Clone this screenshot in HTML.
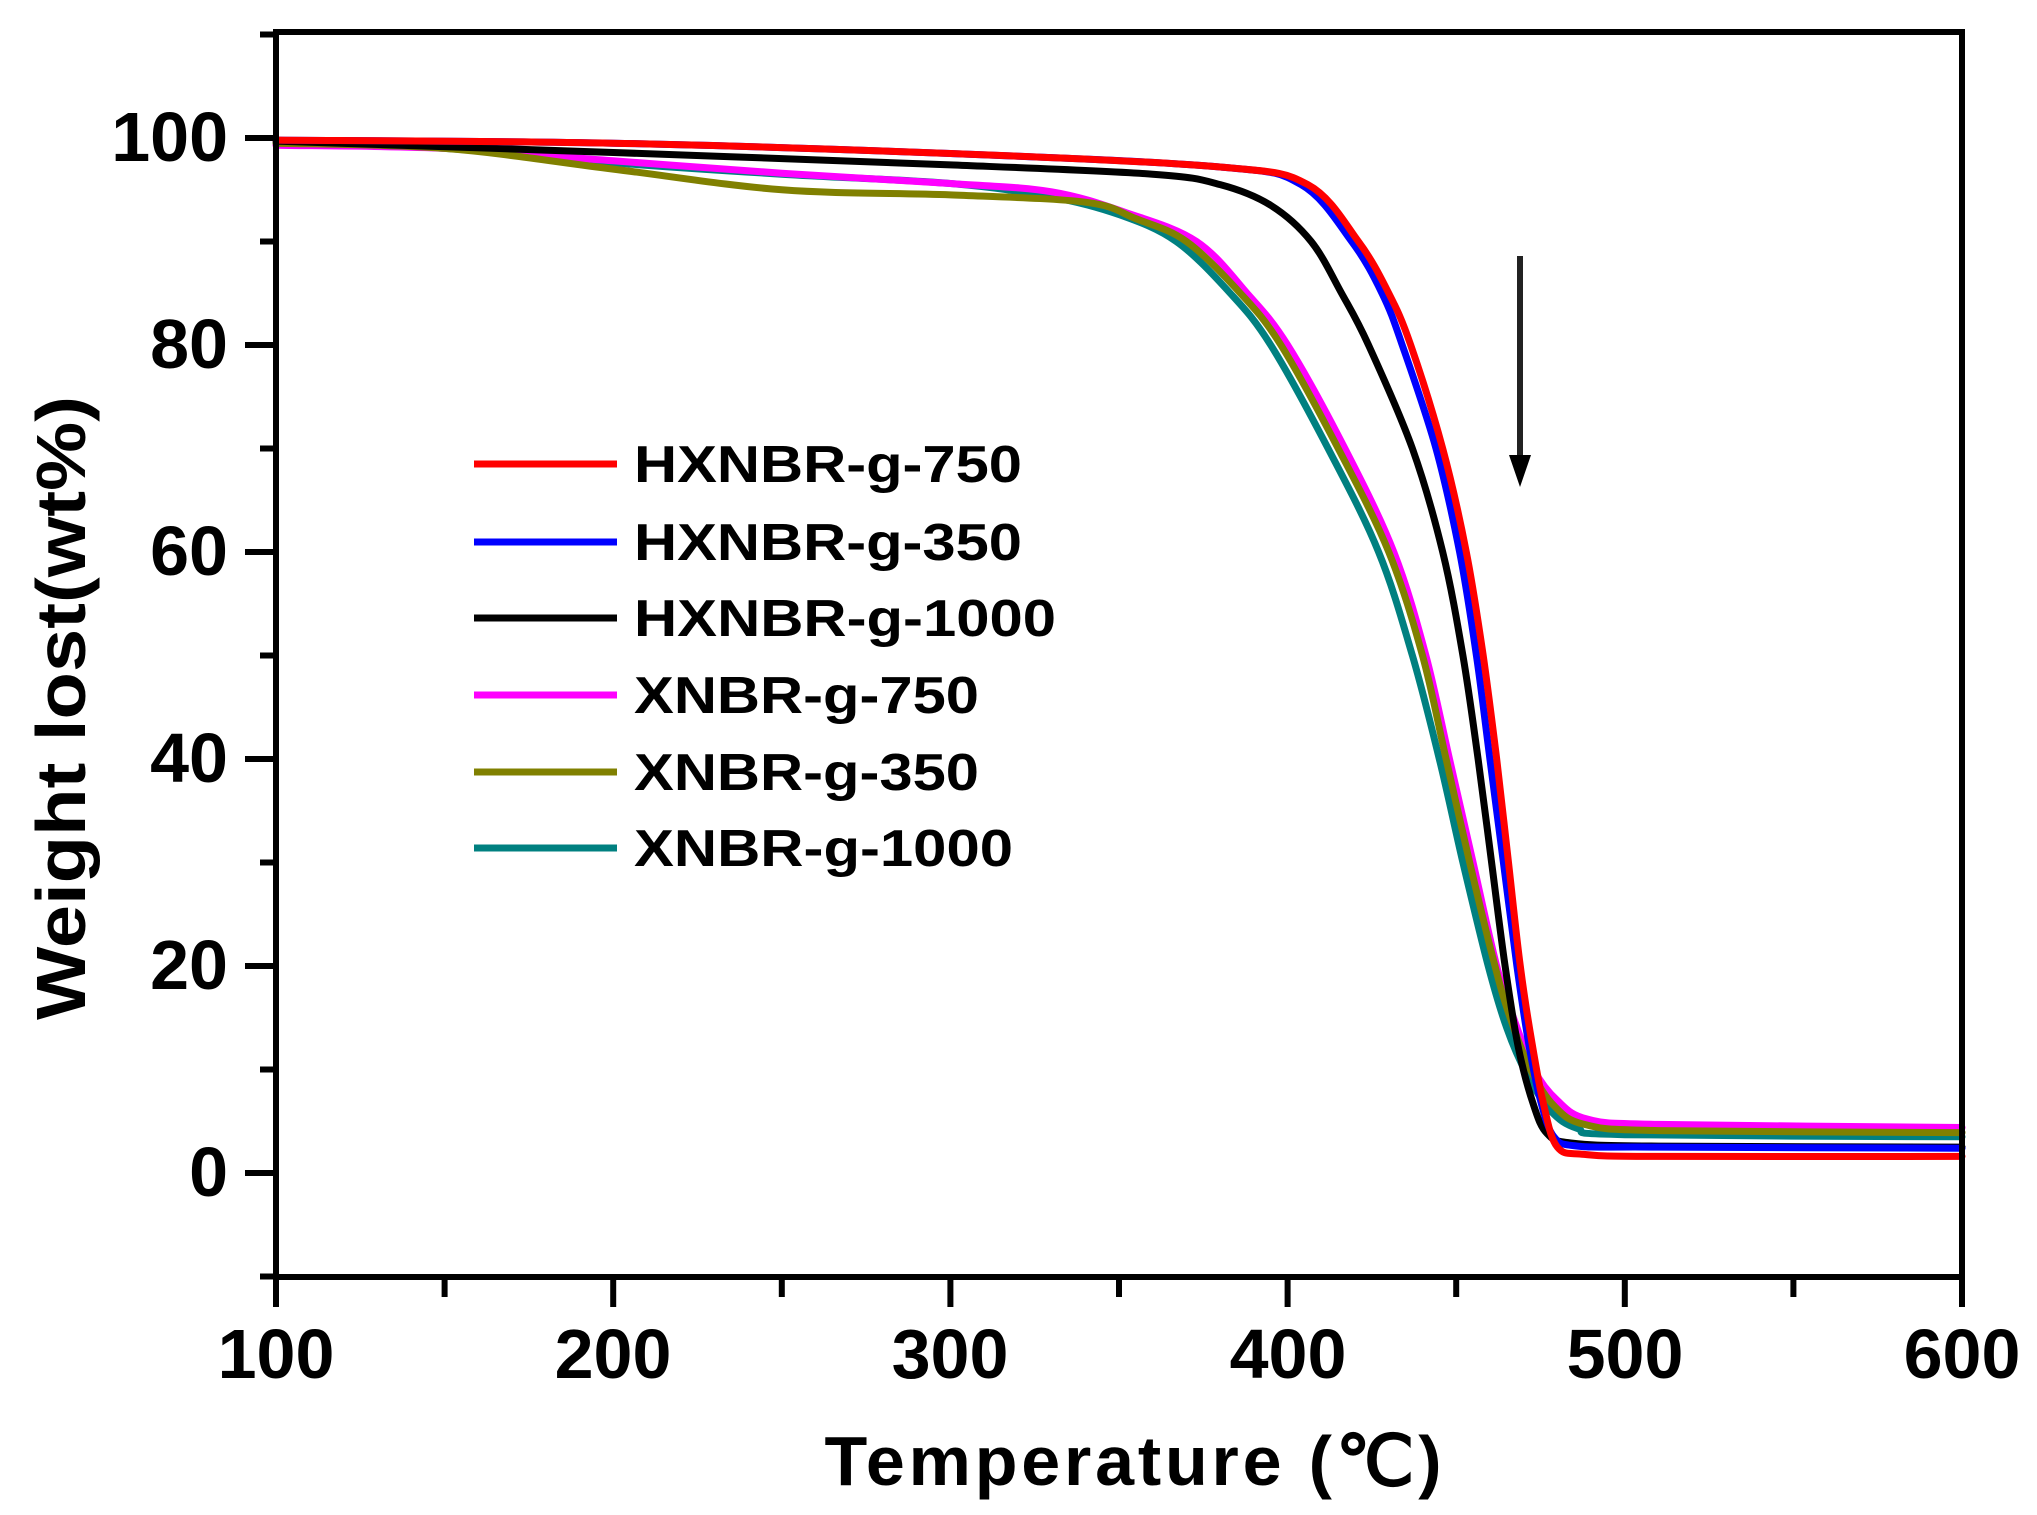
<!DOCTYPE html>
<html><head><meta charset="utf-8"><style>
html,body{margin:0;padding:0;background:#fff;}
svg{display:block;}
text{font-family:"Liberation Sans",Arial,sans-serif;font-weight:bold;fill:#000;}
</style></head><body>
<svg id="s" width="2037" height="1515" viewBox="0 0 2037 1515" xmlns="http://www.w3.org/2000/svg">
<rect width="2037" height="1515" fill="#fff"/>
<g id="curves" fill="none" stroke-width="7" stroke-linejoin="round" stroke-linecap="round"></g>
<rect x="276" y="32" width="1686" height="1245" fill="none" stroke="#000" stroke-width="6"/>
<g id="ticks" stroke="#000" stroke-width="6"></g>
<g font-size="70" text-anchor="end">
<text x="228" y="161">100</text>
<text x="228" y="368">80</text>
<text x="228" y="575">60</text>
<text x="228" y="782">40</text>
<text x="228" y="989">20</text>
<text x="228" y="1196">0</text>
</g>
<g font-size="70" text-anchor="middle">
<text x="276" y="1378">100</text>
<text x="613" y="1378">200</text>
<text x="950" y="1378">300</text>
<text x="1288" y="1378">400</text>
<text x="1625" y="1378">500</text>
<text x="1962" y="1378">600</text>
</g>
<text x="1133" y="1485" font-size="70" text-anchor="middle" textLength="617">Temperature (℃)</text>
<text transform="translate(85,708) rotate(-90)" font-size="70" text-anchor="middle" textLength="624" lengthAdjust="spacingAndGlyphs">Weight lost(wt%)</text>
<g stroke-width="7">
<line x1="474" y1="464" x2="617" y2="464" stroke="#ff0000"/>
<line x1="474" y1="542" x2="617" y2="542" stroke="#0000ff"/>
<line x1="474" y1="618" x2="617" y2="618" stroke="#000000"/>
<line x1="474" y1="695" x2="617" y2="695" stroke="#ff00ff"/>
<line x1="474" y1="772" x2="617" y2="772" stroke="#808000"/>
<line x1="474" y1="848" x2="617" y2="848" stroke="#008080"/>
</g>
<g font-size="52">
<text x="634" y="482" textLength="388" lengthAdjust="spacingAndGlyphs">HXNBR-g-750</text>
<text x="634" y="560" textLength="388" lengthAdjust="spacingAndGlyphs">HXNBR-g-350</text>
<text x="634" y="636" textLength="422" lengthAdjust="spacingAndGlyphs">HXNBR-g-1000</text>
<text x="634" y="713" textLength="345" lengthAdjust="spacingAndGlyphs">XNBR-g-750</text>
<text x="634" y="790" textLength="345" lengthAdjust="spacingAndGlyphs">XNBR-g-350</text>
<text x="634" y="866" textLength="379" lengthAdjust="spacingAndGlyphs">XNBR-g-1000</text>
</g>
<line x1="1520" y1="256" x2="1520" y2="460" stroke="#222" stroke-width="6"/>
<polygon points="1509,455 1531,455 1520,487" fill="#000"/>
</svg>
<script>
var X=function(t){return 276+(t-100)*3.372;};
var Y=function(w){return 1173-w*10.35;};
var ns="http://www.w3.org/2000/svg";
var tk=document.getElementById('ticks');
function ln(a,b,c,d){var l=document.createElementNS(ns,'line');l.setAttribute('x1',a);l.setAttribute('y1',b);l.setAttribute('x2',c);l.setAttribute('y2',d);tk.appendChild(l);}
for(var w=-10;w<=110;w+=10){var y=Y(w);var maj=(w%20===0);ln(276,y,maj?245:260,y);}
for(var t=100;t<=600;t+=50){var x=X(t);var maj=(t%100===0);ln(x,1277,x,maj?1307:1297);}
var series=[
["#008080",[[100,99.5],[150,99],[200,97.6],[250,96.5],[300,95.6],[330,94.3],[350,92.6],[367,90],[383,85],[395,80],[412,70],[427,60],[437,50],[445,40],[452,30],[459.5,20],[465,14],[471,9.5],[478,6],[486,4.3],[500,3.7],[600,3.5]]],
["#ff00ff",[[100,99.3],[150,99],[200,97.8],[250,96.6],[300,95.6],[330,94.8],[352,92.8],[373,90],[388,85],[400,80],[417,70],[431.5,60],[441,50],[448,40],[455,30],[462,20],[467,15],[473,10],[480,7],[489,5.2],[510,4.7],[600,4.4]]],
["#808000",[[100,99.5],[150,99],[200,97],[250,95],[300,94.5],[340,93.8],[355,92.2],[370,90],[386,85],[398,80],[415,70],[430,60],[440,50],[447,40],[454,30],[461.5,20],[466,15],[472,10],[479,6.5],[488,4.7],[510,4.1],[600,3.9]]],
["#000000",[[100,99.7],[200,98.6],[300,97.4],[360,96.5],[380,95.5],[395,93.5],[407,90],[416,85],[424,80],[437,70],[446,60],[452,50],[456.5,40],[460.5,30],[464.5,20],[468.5,12],[473,6.5],[477,3.8],[484,2.9],[510,2.6],[600,2.5]]],
["#0000ff",[[100,99.8],[200,99.5],[300,98.5],[380,97.2],[404,95.5],[419,90],[428,85],[434,80],[444,70],[451,60],[456,50],[460,40],[464,30],[468,20],[471.5,12.5],[475,7],[479,3.5],[486,2.6],[510,2.5],[600,2.4]]],
["#ff0000",[[100,99.8],[200,99.5],[300,98.5],[380,97.2],[406,95.5],[421,90],[430,85],[436.5,80],[446,70],[453,60],[458,50],[462,40],[465.5,30],[469,20],[472.5,12.5],[476,6.5],[480,2.5],[488,1.8],[510,1.6],[600,1.6]]]
];
var g=document.getElementById('curves');
series.forEach(function(s){
 var p=s[1].map(function(q){return [X(q[0]),Y(q[1])];});
 var d="M"+p[0][0].toFixed(1)+","+p[0][1].toFixed(1);
 for(var i=0;i<p.length-1;i++){
  var p0=p[i-1]||p[i],p1=p[i],p2=p[i+1],p3=p[i+2]||p2;
  var c1=[p1[0]+(p2[0]-p0[0])/6,p1[1]+(p2[1]-p0[1])/6];
  var c2=[p2[0]-(p3[0]-p1[0])/6,p2[1]-(p3[1]-p1[1])/6];
  d+=" C"+c1[0].toFixed(1)+","+c1[1].toFixed(1)+" "+c2[0].toFixed(1)+","+c2[1].toFixed(1)+" "+p2[0].toFixed(1)+","+p2[1].toFixed(1);
 }
 var e=document.createElementNS(ns,'path');e.setAttribute('d',d);e.setAttribute('stroke',s[0]);g.appendChild(e);
});
</script>
</body></html>
